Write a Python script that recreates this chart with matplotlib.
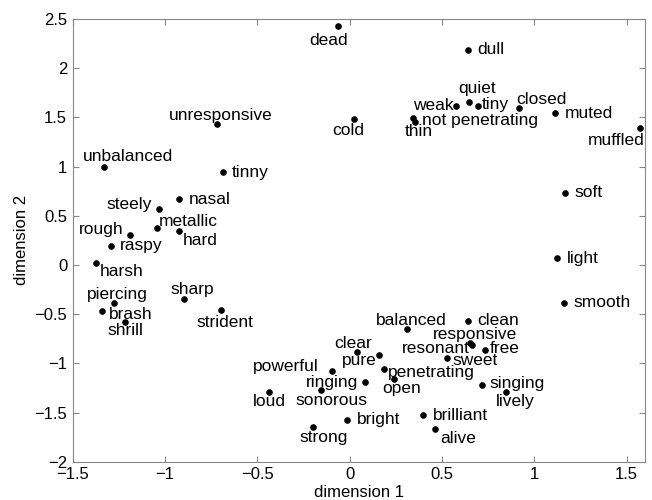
import matplotlib
matplotlib.use('Agg')
import matplotlib.pyplot as plt

plt.rcParams['font.family'] = ['Liberation Sans', 'DejaVu Sans']

# descriptor words and their MDS coordinates
words = ['dead', 'dull', 'unresponsive', 'cold', 'thin', 'not penetrating', 'weak',
         'quiet', 'tiny', 'closed', 'muted', 'muffled', 'unbalanced', 'tinny', 'soft',
         'nasal', 'steely', 'metallic', 'hard', 'rough', 'raspy', 'harsh', 'light',
         'sharp', 'piercing', 'smooth', 'strident', 'brash', 'shrill', 'clean',
         'balanced', 'responsive', 'resonant', 'free', 'clear', 'pure', 'sweet',
         'penetrating', 'powerful', 'open', 'ringing', 'singing', 'sonorous', 'loud',
         'lively', 'brilliant', 'bright', 'strong', 'alive']
dim1 = [-0.062, 0.639, -0.717, 0.023, 0.344, 0.354, 0.576,
        0.648, 0.693, 0.915, 1.112, 1.572, -1.329, -0.688, 1.166,
        -0.924, -1.033, -1.045, -0.924, -1.190, -1.293, -1.374, 1.123,
        -0.899, -1.275, 1.162, -0.699, -1.340, -1.217, 0.639,
        0.312, 0.651, 0.664, 0.733, 0.038, 0.160, 0.528,
        0.186, -0.097, 0.241, 0.081, 0.715, -0.155, -0.437,
        0.845, 0.395, -0.016, -0.200, 0.462]
dim2 = [2.432, 2.185, 1.433, 1.480, 1.491, 1.456, 1.616,
        1.659, 1.619, 1.592, 1.541, 1.395, 0.999, 0.942, 0.734,
        0.667, 0.572, 0.375, 0.348, 0.304, 0.192, 0.016, 0.067,
        -0.343, -0.390, -0.384, -0.461, -0.468, -0.583, -0.567,
        -0.654, -0.791, -0.814, -0.865, -0.882, -0.916, -0.943,
        -1.058, -1.078, -1.163, -1.193, -1.221, -1.271, -1.289,
        -1.289, -1.526, -1.576, -1.651, -1.671]

xticks = [-1.5, -1, -0.5, 0, 0.5, 1, 1.5]
xticklabels = ['\u22121.5', '\u22121', '\u22120.5', '0', '0.5', '1', '1.5']
yticks = [-2, -1.5, -1, -0.5, 0, 0.5, 1, 1.5, 2, 2.5]
yticklabels = ['\u22122', '\u22121.5', '\u22121', '\u22120.5', '0', '0.5', '1', '1.5', '2', '2.5']

# label placement: (horizontal alignment, dx px, dy px) relative to the dot
R = ('left', 9.5, -4.5)
place = {
    'dead': ('center', -10, -19), 'dull': R, 'unresponsive': ('center', 3, 4),
    'cold': ('center', -5.5, -15.5), 'thin': ('center', 5.5, -18),
    'not penetrating': ('left', 7.5, -3.5), 'weak': ('right', -2.5, -4),
    'quiet': ('center', 7.5, 8.5), 'tiny': ('left', 4.5, -3.5),
    'closed': ('left', -2, 4), 'muted': R, 'muffled': ('right', 5, -17),
    'unbalanced': ('left', -21, 5.5), 'tinny': R, 'soft': R, 'nasal': R,
    'steely': ('right', -7, 0), 'metallic': ('left', 2.5, 2),
    'hard': ('left', 3.5, -14), 'rough': ('right', -6, 1.5), 'raspy': ('left', 9, -4),
    'harsh': ('left', 4, -12.5), 'light': R, 'sharp': ('center', 8.5, 4.5),
    'piercing': ('center', 3, 4), 'smooth': R, 'strident': ('center', 4.5, -17),
    'brash': ('left', 7, -8), 'shrill': ('center', 0, -12.5), 'clean': R,
    'balanced': ('center', 4.5, 4.5), 'responsive': ('center', 5, 3.5),
    'resonant': ('right', -2.5, -7.5), 'free': ('left', 4.5, -3),
    'clear': ('center', -3.5, 4), 'pure': ('right', -2.5, -10),
    'sweet': ('left', 5, -7.5), 'penetrating': ('left', 3.5, -7.5),
    'powerful': ('right', -13.5, 0), 'open': ('center', 7.5, -14),
    'ringing': ('right', -6.5, -4.5), 'singing': ('left', 7.5, -3),
    'sonorous': ('center', 10, -15), 'loud': ('center', 0, -14.5),
    'lively': ('center', 9.5, -14.5), 'brilliant': ('left', 10, -5),
    'bright': ('left', 10, -4.5), 'strong': ('center', 11, -14.5),
    'alive': ('left', 5, -14),
}

fig = plt.figure(figsize=(6.52, 5.0), dpi=100)
ax = fig.add_axes([0.1115, 0.0766, 0.8778, 0.8854])

ax.plot(dim1, dim2, 'k.', markersize=7.5)
for w, x, y in zip(words, dim1, dim2):
    ha, dx, dy = place[w]
    ax.annotate(w, (x, y), xytext=(dx, dy), textcoords='offset pixels',
                ha=ha, va='baseline', fontsize=12.5, color='k')

ax.set_xlim(-1.5, 1.6)
ax.set_ylim(-2, 2.5)
ax.set_xticks(xticks)
ax.set_xticklabels(xticklabels)
ax.set_yticks(yticks)
ax.set_yticklabels(yticklabels)
ax.tick_params(direction='in', length=4, color='#888888', labelsize=12,
               top=True, right=True, pad=4)
for s in ax.spines.values():
    s.set_color('#888888')
ax.set_xlabel('dimension 1', fontsize=12, labelpad=2)
ax.set_ylabel('dimension 2', fontsize=12, labelpad=4)

fig.savefig('out.png', dpi=100)
